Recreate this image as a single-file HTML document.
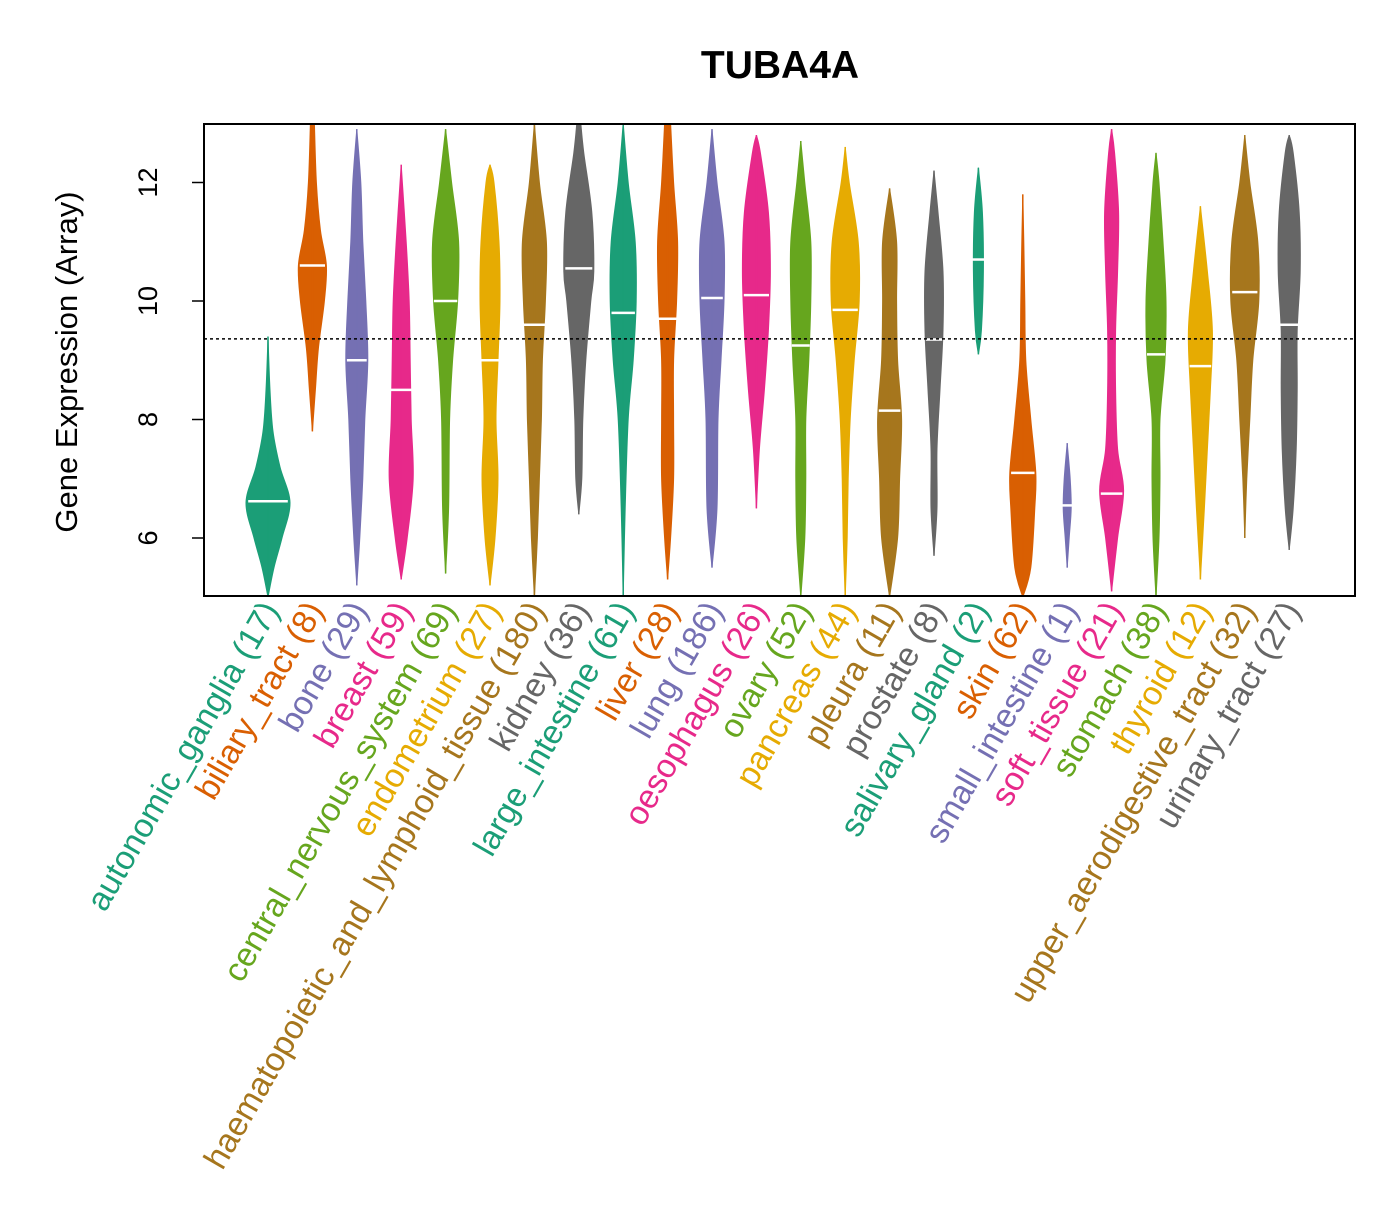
<!DOCTYPE html>
<html><head><meta charset="utf-8"><style>
body{margin:0;background:#fff}
svg text{font-family:"Liberation Sans",Arial,sans-serif}
</style></head><body>
<svg id="chart" width="1400" height="1200" xmlns="http://www.w3.org/2000/svg">
<rect width="1400" height="1200" fill="#fff"/>
<text x="780" y="78" font-size="39" font-weight="bold" text-anchor="middle">TUBA4A</text>
<text transform="translate(77,362) rotate(-90)" font-size="31" text-anchor="middle">Gene Expression (Array)</text>
<defs><clipPath id="pc"><rect x="204" y="124" width="1151" height="472"/></clipPath></defs>
<g id="violins" clip-path="url(#pc)"></g>
<g id="axes"></g>
<g id="labels"></g>
<rect x="204" y="124" width="1151" height="472" fill="none" stroke="#000" stroke-width="2"/>
</svg>
<script>
const categories=["autonomic_ganglia","biliary_tract","bone","breast","central_nervous_system","endometrium","haematopoietic_and_lymphoid_tissue","kidney","large_intestine","liver","lung","oesophagus","ovary","pancreas","pleura","prostate","salivary_gland","skin","small_intestine","soft_tissue","stomach","thyroid","upper_aerodigestive_tract","urinary_tract"];
const counts=[17,8,29,59,69,27,180,36,61,28,186,26,52,44,11,8,2,62,1,21,38,12,32,27];
const medians=[6.62,10.6,9.0,8.5,10.0,9.0,9.6,10.55,9.8,9.7,10.05,10.1,9.25,9.85,8.15,9.35,10.7,7.1,6.55,6.75,9.1,8.9,10.15,9.6];
const profiles=[
[[5.0,0],[5.5,6],[6.0,14],[6.6,22],[7.2,12],[7.8,5],[8.5,2],[9.4,0]],
[[7.8,0],[8.5,3],[9.2,6],[10,12],[10.6,14],[11.2,8],[12,4],[13,2]],
[[5.2,0],[6,3],[7,6],[8,8],[9,11],[10,9],[11,6],[12,4],[12.9,0]],
[[5.3,0],[6,6],[7,12],[8,10],[9,9],[10,8],[11,5],[12.3,0]],
[[5.4,0],[6.5,3],[8,4],[9,7],[10,12],[11,13],[12,6],[12.9,0]],
[[5.2,0],[6,5],[7,8],[8,6],[9,8],[10,10],[11,9],[12,4],[12.3,0]],
[[5,0],[6,3],[7,5],[8,7],[9,8],[10,11],[11,12],[12,5],[13,0]],
[[6.4,0],[7,3],[8,4],[9,7],[10,12],[10.5,15],[11.5,13],[12.5,5],[13,2]],
[[5,0],[6.5,2],[8,5],[9,10],[10,13],[11,12],[12,5],[13,0]],
[[5.3,0],[6,3],[7,6],[8,6],[9,6],[10,9],[11,10],[12,6],[13,3]],
[[5.5,0],[6.5,5],[8,6],[9,9],[10,12],[11,12],[12,5],[12.9,0]],
[[6.5,0],[7.5,3],[8.5,8],[9.5,12],[10.5,14],[11.5,12],[12.5,4],[12.8,0]],
[[5,0],[6,4],[7,5],[8,5],[9,8],[10,10],[11,10],[12,4],[12.7,0]],
[[5,0],[6,2],[7,3],[8,5],[9,9],[10,14],[11,13],[12,4],[12.6,0]],
[[5,0],[6,8],[7,10],[8,12],[9,8],[10,7],[11,7],[11.9,0]],
[[5.7,0],[6.5,3],[7.5,3],[8.5,6],[9.5,9],[10.5,9],[11.5,4],[12.2,0]],
[[9.1,0],[9.5,3],[10.5,5],[11.5,4],[12.25,0]],
[[5,0],[5.5,8],[6.5,12],[7.1,13],[8,8],[9,3],[10,2],[11,1],[11.8,0]],
[[5.5,0],[6,2],[6.5,4],[7,3],[7.6,0]],
[[5.1,0],[6,6],[6.8,12],[7.5,6],[8.5,4],[9.5,4],[10.5,6],[11.5,7],[12.5,3],[12.9,0]],
[[5,0],[6,3],[7,4],[8,4],[9,9],[10,10],[11,7],[12,3],[12.5,0]],
[[5.3,0],[6.5,4],[7.5,7],[8.5,10],[9.5,12],[10.5,7],[11.6,0]],
[[6,0],[7,2],[8,5],[9,8],[10,14],[11,13],[12,5],[12.8,0]],
[[5.8,0],[6.5,4],[7.5,7],[8.5,8],[9.5,8],[10.5,11],[11.5,10],[12.5,4],[12.8,0]]
];
const yTicks=[6,8,10,12];
const refLine=9.36;
const palette=["#1B9E77","#D95F02","#7570B3","#E7298A","#66A61E","#E6AB02","#A6761D","#666666"];
const NS="http://www.w3.org/2000/svg";
function y(v){return 301-(v-10)*59.25;}
function x(i){return 268+44.4*i;}
function mk(t,a){const e=document.createElementNS(NS,t);for(const k in a)e.setAttribute(k,a[k]);return e;}
function smooth(pts){
  let d="M"+pts[0][0]+","+pts[0][1];
  for(let i=0;i<pts.length-1;i++){
    const p0=pts[Math.max(i-1,0)],p1=pts[i],p2=pts[i+1],p3=pts[Math.min(i+2,pts.length-1)];
    const c1=[p1[0]+(p2[0]-p0[0])/6,p1[1]+(p2[1]-p0[1])/6];
    const c2=[p2[0]-(p3[0]-p1[0])/6,p2[1]-(p3[1]-p1[1])/6];
    d+=" C"+c1[0]+","+c1[1]+" "+c2[0]+","+c2[1]+" "+p2[0]+","+p2[1];
  }
  return d;
}
const vg=document.getElementById("violins");
categories.forEach((c,i)=>{
  const cx=x(i),col=palette[i%8],pr=profiles[i];
  const right=pr.map(p=>[cx+p[1],y(p[0])]);
  const left=pr.slice().reverse().map(p=>[cx-p[1],y(p[0])]);
  let d=smooth(right)+" L"+left[0][0]+","+left[0][1]+smooth(left).replace(/^M[^ ]+/,"")+" Z";
  const path=mk("path",{d:d,fill:col,stroke:col,"stroke-width":1});
  
  
  vg.appendChild(path);
  const ln=mk("line",{x1:cx,x2:cx,y1:y(pr[0][0]),y2:y(pr[pr.length-1][0]),stroke:col,"stroke-width":1.5});
  
  
  vg.appendChild(ln);
  const mw=Math.max(6,Math.max(...pr.map(p=>p[1]))*0.9);
  const med=mk("line",{x1:cx-mw,x2:cx+mw,y1:y(medians[i]),y2:y(medians[i]),stroke:"#fff","stroke-width":2.5});
  
  
  vg.appendChild(med);
});
const ref=mk("line",{x1:204,x2:1355,y1:y(refLine),y2:y(refLine),stroke:"#000","stroke-width":1.5,"stroke-dasharray":"3,3"});


vg.appendChild(ref);
const ag=document.getElementById("axes");
yTicks.forEach(t=>{
  const tl=mk("line",{x1:192,x2:204,y1:y(t),y2:y(t),stroke:"#000","stroke-width":1.5});
  
  
  ag.appendChild(tl);
  const tx=mk("text",{transform:"translate(157,"+y(t)+") rotate(-90)","font-size":27,"text-anchor":"middle"});
  tx.textContent=t;
  
  
  ag.appendChild(tx);
});
const lg=document.getElementById("labels");
categories.forEach((c,i)=>{
  const t=mk("text",{transform:"translate("+(x(i)+12)+",610) rotate(-60)","font-size":33.5,"text-anchor":"end",fill:palette[i%8]});
  t.textContent=c+" ("+counts[i]+")";
  
  
  lg.appendChild(t);
});
</script>
</body></html>
